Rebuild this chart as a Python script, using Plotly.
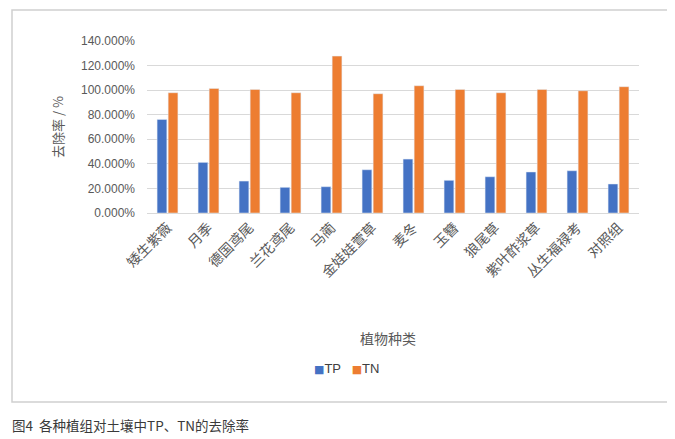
import plotly.graph_objects as go

# plant groups (x categories)
plants = ["矮生紫薇", "月季", "德国鸢尾", "兰花鸢尾", "马蔺", "金娃娃萱草",
          "麦冬", "玉簪", "狼尾草", "紫叶酢浆草", "丛生福禄考", "对照组"]

# removal rate, in percent
tp_rate = [76.2, 41.2, 26.0, 20.9, 21.4, 35.2, 43.9, 26.6, 29.5, 33.4, 34.4, 23.6]
tn_rate = [97.9, 101.4, 100.6, 97.9, 127.7, 97.1, 103.6, 100.6, 97.9, 100.6, 99.5, 102.8]

series_names = ["TP", "TN"]
series_colors = ["#4472C4", "#ED7D31"]

W, H = 675, 439
OFF = 8                                   # page body margin
L, R, T, B = 147 - OFF, 639 - OFF, 41 - OFF, 213 - OFF   # plot area


def px_x(x):
    return (x - OFF - L) / (R - L)


def px_y(y):
    return (B - (y - OFF)) / (B - T)


font_cn = "Noto Sans CJK SC, Noto Sans, sans-serif"

fig = go.Figure()
for name, vals, col in zip(series_names, [tp_rate, tn_rate], series_colors):
    fig.add_trace(go.Bar(name=name, x=plants, y=[v / 100 for v in vals],
                         marker_color=col))

fig.update_layout(
    width=W, height=H,
    margin=dict(l=L, r=W - R, t=T, b=H - B),
    barmode="group",
    bargap=0.46,
    bargroupgap=0.12,
    plot_bgcolor="white",
    paper_bgcolor="white",
    font=dict(family=font_cn, size=12, color="#595959"),
    showlegend=False,
)

fig.update_yaxes(
    range=[0, 1.4], dtick=0.2, tickformat=".3%",
    showgrid=True, gridcolor="#D9D9D9", gridwidth=1,
    zeroline=True, zerolinecolor="#D9D9D9", zerolinewidth=1,
    showline=False, ticks="", ticklabelstandoff=11,
    tickfont=dict(family="Liberation Sans, Arial, sans-serif", size=12, color="#595959"),
)
fig.update_xaxes(
    tickangle=-45, showgrid=False, showline=True, linecolor="#D9D9D9",
    ticks="", tickfont=dict(size=14, color="#595959"),
)

fig.add_annotation(text="去除率 / %", textangle=-90, x=px_x(57), y=0.5,
                   xref="paper", yref="paper", xanchor="center", yanchor="middle",
                   showarrow=False, font=dict(size=13, color="#595959"))
fig.add_annotation(text="植物种类", x=px_x(388), y=px_y(338),
                   xref="paper", yref="paper", xanchor="center", yanchor="middle",
                   showarrow=False, font=dict(size=14, color="#595959"))

# legend: coloured squares followed by the series names
legend_txt = "   ".join(
    f'<span style="color:{c}; font-family:DejaVu Sans; font-size:11px">■</span>{n}'
    for n, c in zip(series_names, series_colors))
fig.add_annotation(text=legend_txt, x=px_x(346), y=px_y(368),
                   xref="paper", yref="paper", xanchor="center", yanchor="middle",
                   showarrow=False,
                   font=dict(family="Liberation Sans Narrow, Liberation Sans, sans-serif",
                             size=13, color="#404040"))

fig.add_annotation(text="图4  各种植组对土壤中TP、TN的去除率", x=px_x(10), y=px_y(425),
                   xref="paper", yref="paper", xanchor="left", yanchor="middle",
                   showarrow=False, font=dict(size=13.5, color="#3a3a3a"))

fig.add_shape(type="rect", xref="paper", yref="paper",
              x0=px_x(12), x1=px_x(671), y0=px_y(402), y1=px_y(10),
              line=dict(color="#D0D0D0", width=1.5), layer="below")

fig.write_html("out.html")
